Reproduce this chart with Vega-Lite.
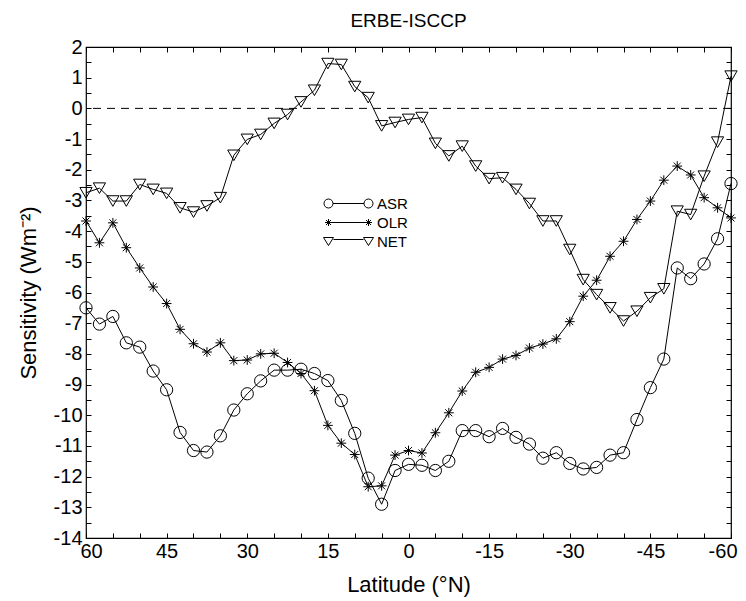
{
  "$schema": "https://vega.github.io/schema/vega-lite/v6.json",
  "width": 645,
  "height": 491,
  "autosize": {"type": "none"},
  "padding": {"left": 86, "top": 47, "right": 15, "bottom": 63},
  "background": "white",
  "title": {"text": "ERBE-ISCCP", "fontSize": 19, "font": "Liberation Sans", "fontWeight": "normal", "color": "black", "frame": "group", "offset": 19, "baseline": "alphabetic", "anchor": "middle", "dy": 28},
  "config": {
    "view": {"stroke": "black", "strokeWidth": 1.2},
    "axis": {"labelFont": "Liberation Sans", "titleFont": "Liberation Sans", "labelColor": "black", "titleColor": "black", "tickColor": "black", "domain": false, "grid": false, "titleFontWeight": "normal"}
  },
  "datasets": {
    "sens": [
      {"lat": 60, "ASR": -6.5, "OLR": -3.67, "NET": -2.75},
      {"lat": 57.5, "ASR": -7.03, "OLR": -4.38, "NET": -2.6},
      {"lat": 55, "ASR": -6.78, "OLR": -3.73, "NET": -3.02},
      {"lat": 52.5, "ASR": -7.64, "OLR": -4.54, "NET": -3.02},
      {"lat": 50, "ASR": -7.78, "OLR": -5.2, "NET": -2.48},
      {"lat": 47.5, "ASR": -8.56, "OLR": -5.82, "NET": -2.64},
      {"lat": 45, "ASR": -9.17, "OLR": -6.36, "NET": -2.77},
      {"lat": 42.5, "ASR": -10.56, "OLR": -7.2, "NET": -3.24},
      {"lat": 40, "ASR": -11.15, "OLR": -7.67, "NET": -3.38},
      {"lat": 37.5, "ASR": -11.2, "OLR": -7.94, "NET": -3.18},
      {"lat": 35, "ASR": -10.67, "OLR": -7.64, "NET": -2.91},
      {"lat": 32.5, "ASR": -9.83, "OLR": -8.22, "NET": -1.53},
      {"lat": 30, "ASR": -9.3, "OLR": -8.2, "NET": -1.01},
      {"lat": 27.5, "ASR": -8.88, "OLR": -8.0, "NET": -0.85},
      {"lat": 25, "ASR": -8.53, "OLR": -7.98, "NET": -0.49},
      {"lat": 22.5, "ASR": -8.53, "OLR": -8.28, "NET": -0.2},
      {"lat": 20, "ASR": -8.5, "OLR": -8.64, "NET": 0.21},
      {"lat": 17.5, "ASR": -8.64, "OLR": -9.2, "NET": 0.59},
      {"lat": 15, "ASR": -8.87, "OLR": -10.33, "NET": 1.46},
      {"lat": 12.5, "ASR": -9.52, "OLR": -10.91, "NET": 1.43},
      {"lat": 10, "ASR": -10.59, "OLR": -11.28, "NET": 0.71},
      {"lat": 7.5, "ASR": -12.05, "OLR": -12.33, "NET": 0.35},
      {"lat": 5, "ASR": -12.9, "OLR": -12.3, "NET": -0.57},
      {"lat": 2.5, "ASR": -11.8, "OLR": -11.3, "NET": -0.46},
      {"lat": 0, "ASR": -11.6, "OLR": -11.15, "NET": -0.36},
      {"lat": -2.5, "ASR": -11.63, "OLR": -11.23, "NET": -0.3},
      {"lat": -5, "ASR": -11.8, "OLR": -10.57, "NET": -1.14},
      {"lat": -7.5, "ASR": -11.5, "OLR": -9.92, "NET": -1.55},
      {"lat": -10, "ASR": -10.5, "OLR": -9.21, "NET": -1.23},
      {"lat": -12.5, "ASR": -10.5, "OLR": -8.6, "NET": -1.88},
      {"lat": -15, "ASR": -10.7, "OLR": -8.44, "NET": -2.29},
      {"lat": -17.5, "ASR": -10.43, "OLR": -8.17, "NET": -2.26},
      {"lat": -20, "ASR": -10.72, "OLR": -8.05, "NET": -2.64},
      {"lat": -22.5, "ASR": -10.94, "OLR": -7.81, "NET": -3.1},
      {"lat": -25, "ASR": -11.4, "OLR": -7.68, "NET": -3.67},
      {"lat": -27.5, "ASR": -11.22, "OLR": -7.51, "NET": -3.67},
      {"lat": -30, "ASR": -11.57, "OLR": -6.95, "NET": -4.6},
      {"lat": -32.5, "ASR": -11.75, "OLR": -6.12, "NET": -5.58},
      {"lat": -35, "ASR": -11.7, "OLR": -5.6, "NET": -6.07},
      {"lat": -37.5, "ASR": -11.3, "OLR": -4.82, "NET": -6.5},
      {"lat": -40, "ASR": -11.22, "OLR": -4.33, "NET": -6.93},
      {"lat": -42.5, "ASR": -10.14, "OLR": -3.62, "NET": -6.61},
      {"lat": -45, "ASR": -9.1, "OLR": -3.02, "NET": -6.17},
      {"lat": -47.5, "ASR": -8.17, "OLR": -2.34, "NET": -5.88},
      {"lat": -50, "ASR": -5.2, "OLR": -1.88, "NET": -3.35},
      {"lat": -52.5, "ASR": -5.55, "OLR": -2.17, "NET": -3.46},
      {"lat": -55, "ASR": -5.07, "OLR": -2.91, "NET": -2.21},
      {"lat": -57.5, "ASR": -4.25, "OLR": -3.24, "NET": -1.1},
      {"lat": -60, "ASR": -2.45, "OLR": -3.57, "NET": 1.05}
    ]
  },
  "layer": [
    {
      "data": {"values": [{}]},
      "mark": {"type": "rule", "color": "black", "strokeWidth": 1, "strokeDash": [8, 6]},
      "encoding": {
        "y": {"datum": 0, "type": "quantitative", "scale": {"domain": [-14, 2]}, "axis": null}
      }
    },
    {
      "data": {"name": "sens"},
      "transform": [{"fold": ["ASR", "OLR", "NET"], "as": ["series", "value"]}],
      "mark": {"type": "line", "color": "black", "strokeWidth": 1},
      "encoding": {
        "x": {"field": "lat", "type": "quantitative", "scale": {"domain": [-60, 60], "reverse": true, "nice": false},
          "axis": {"orient": "bottom", "values": [60, 55, 50, 45, 40, 35, 30, 25, 20, 15, 10, 5, 0, -5, -10, -15, -20, -25, -30, -35, -40, -45, -50, -55, -60],
            "labelExpr": "datum.value % 15 === 0 ? toString(datum.value) : ''", "tickSize": -5, "labelPadding": 8, "labelFontSize": 20, "labelFlush": true, "labelFlushOffset": 6,
            "title": "Latitude (°N)", "titleFontSize": 22, "titlePadding": 13}},
        "y": {"field": "value", "type": "quantitative", "scale": {"domain": [-14, 2], "nice": false},
          "axis": {"orient": "left", "values": [2, 1.5, 1, 0.5, 0, -0.5, -1, -1.5, -2, -2.5, -3, -3.5, -4, -4.5, -5, -5.5, -6, -6.5, -7, -7.5, -8, -8.5, -9, -9.5, -10, -10.5, -11, -11.5, -12, -12.5, -13, -13.5, -14],
            "labelExpr": "datum.value % 1 === 0 ? toString(datum.value) : ''", "tickSize": -5, "labelPadding": 9, "labelFontSize": 20, "labelFlush": false,
            "title": "Sensitivity (Wm⁻²)", "titleFontSize": 22, "titlePadding": 13}},
        "detail": {"field": "series", "type": "nominal"}
      }
    },
    {
      "data": {"name": "sens"},
      "transform": [{"fold": ["ASR", "OLR", "NET"], "as": ["series", "value"]}],
      "mark": {"type": "point", "filled": false, "color": "black", "strokeWidth": 1, "size": 150, "opacity": 1},
      "encoding": {
        "x": {"field": "lat", "type": "quantitative",
          "axis": {"orient": "top", "values": [60, 55, 50, 45, 40, 35, 30, 25, 20, 15, 10, 5, 0, -5, -10, -15, -20, -25, -30, -35, -40, -45, -50, -55, -60], "labels": false, "title": null, "tickSize": -5}},
        "y": {"field": "value", "type": "quantitative",
          "axis": {"orient": "right", "values": [2, 1.5, 1, 0.5, 0, -0.5, -1, -1.5, -2, -2.5, -3, -3.5, -4, -4.5, -5, -5.5, -6, -6.5, -7, -7.5, -8, -8.5, -9, -9.5, -10, -10.5, -11, -11.5, -12, -12.5, -13, -13.5, -14], "labels": false, "title": null, "tickSize": -5}},
        "shape": {"field": "series", "type": "nominal",
          "scale": {"domain": ["ASR", "OLR", "NET"], "range": ["circle", "M-0.8,0L0.8,0M0,-0.8L0,0.8M-0.57,-0.57L0.57,0.57M-0.57,0.57L0.57,-0.57", "triangle-down"]},
          "legend": null}
      }
    },
    {
      "data": {"name": "sens"},
      "transform": [{"fold": ["ASR", "OLR", "NET"], "as": ["series", "value"]}, {"filter": "false"}],
      "mark": {"type": "point", "filled": false, "color": "black", "strokeWidth": 1, "size": 400, "opacity": 1},
      "encoding": {
        "shape": {"field": "series", "type": "nominal",
          "scale": {"domain": ["ASR", "OLR", "NET"], "range": [
            "M-1.55,0A0.45,0.45 0 1,0 -2.45,0A0.45,0.45 0 1,0 -1.55,0ZM-1.55,0L1.55,0M2.45,0A0.45,0.45 0 1,0 1.55,0A0.45,0.45 0 1,0 2.45,0Z",
            "M-2.35,0L-1.65,0M-2,-0.35L-2,0.35M-2.25,-0.25L-1.75,0.25M-2.25,0.25L-1.75,-0.25M-1.65,0L1.65,0M1.65,0L2.35,0M2,-0.35L2,0.35M1.75,-0.25L2.25,0.25M1.75,0.25L2.25,-0.25",
            "M-2.5,-0.4L-1.5,-0.4L-2,0.4ZM-1.5,-0.2L1.5,-0.2M1.5,-0.4L2.5,-0.4L2,0.4Z"]},
          "legend": {"orient": "none", "legendX": 252, "legendY": 146, "title": null, "symbolSize": 400, "symbolStrokeWidth": 1, "symbolStrokeColor": "black", "symbolFillColor": "transparent", "symbolOpacity": 1,
            "labelFont": "Liberation Sans", "labelFontSize": 15, "labelColor": "black", "labelOffset": 18, "rowPadding": 0, "padding": 0}}
      }
    }
  ],
  "resolve": {"axis": {"x": "independent", "y": "independent"}, "scale": {"shape": "independent"}}
}
